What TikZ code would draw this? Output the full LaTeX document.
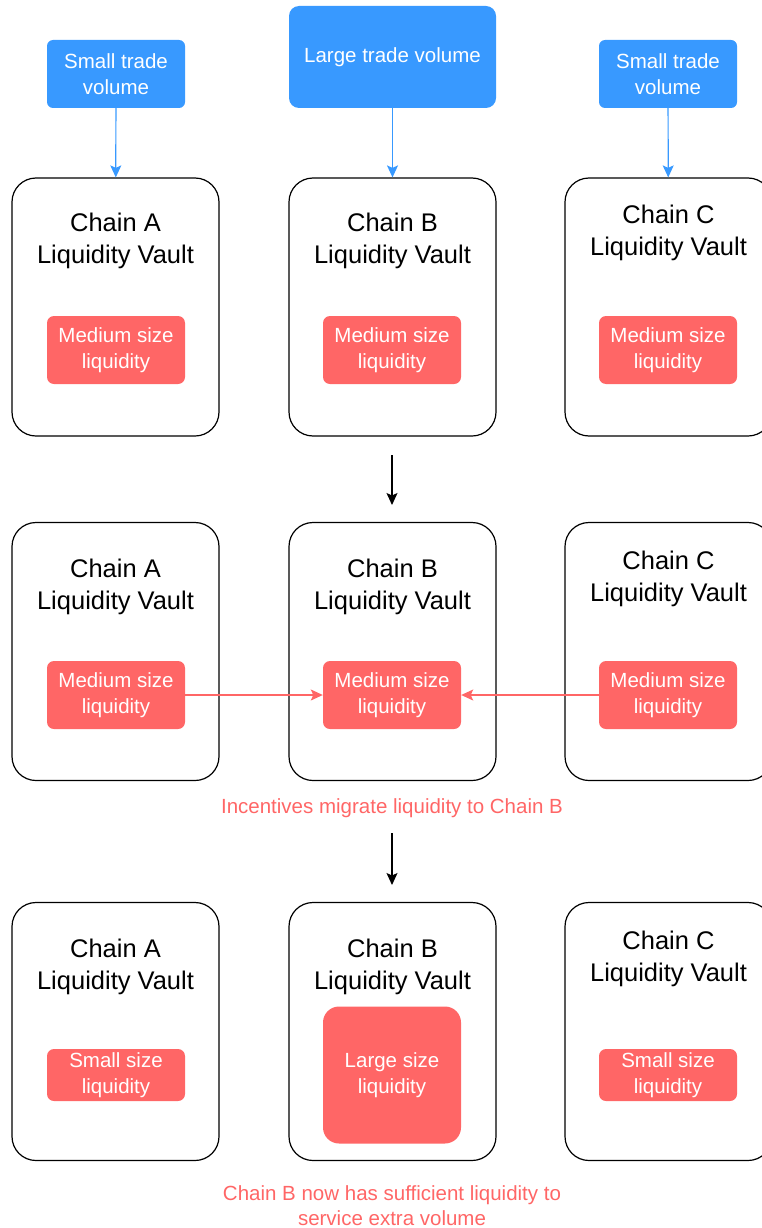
\documentclass[tikz,border=0pt]{standalone}
\usepackage{fontspec}
\setmainfont{Liberation Sans}
\usetikzlibrary{arrows.meta}
\definecolor{tradeblue}{RGB}{56,153,255}
\definecolor{liqred}{RGB}{255,102,102}

\begin{document}
\begin{tikzpicture}[x=1pt,y=-1pt]
		\tikzstyle{vault}=[draw,shape=rectangle,rounded corners=24pt,line width=1.2pt,minimum width=207pt,minimum height=258pt]
		\tikzstyle{title}=[align=center,font=\fontsize{25.5}{32}\selectfont]
		\tikzstyle{trade}=[fill=tradeblue,rounded corners=6pt,text=white,align=center,minimum width=138pt,minimum height=68pt,font=\fontsize{20.5}{26}\selectfont]
		\tikzstyle{liq}=[fill=liqred,rounded corners=7pt,text=white,align=center,minimum width=138pt,minimum height=68pt,font=\fontsize{20.5}{26}\selectfont]
		\tikzstyle{note}=[text=liqred,align=center,font=\fontsize{20.5}{25}\selectfont]
		\tikzstyle{flow}=[-{Stealth[length=12pt,width=11pt,inset=2.5pt]},line width=1.2pt]
		
		\clip (0,0) rectangle (762,1228);
		
		% trade volume
		\node[trade](tA) at (116,74){Small trade\\volume};
		\node[trade,minimum width=207pt,minimum height=102pt,rounded corners=10pt](tB) at (392.5,57){Large trade volume};
		\node[trade](tC) at (668,74){Small trade\\volume};
		
		% first row
		\node[vault](vA1) at (115.5,307){};
		\node[vault](vB1) at (392.5,307){};
		\node[vault](vC1) at (668.5,307){};
		\node[title](hA1) at (115.5,241){Chain A\\Liquidity Vault};
		\node[title](hB1) at (392.5,241){Chain B\\Liquidity Vault};
		\node[title](hC1) at (668.5,233){Chain C\\Liquidity Vault};
		\node[liq](lA1) at (116,350){Medium size\\liquidity};
		\node[liq](lB1) at (392,350){Medium size\\liquidity};
		\node[liq](lC1) at (668,350){Medium size\\liquidity};
		
		\draw[flow,tradeblue] (tA) -- (vA1);
		\draw[flow,tradeblue] (tB) -- (vB1);
		\draw[flow,tradeblue] (tC) -- (vC1);
		
		\coordinate (s1) at (392,455);
		\coordinate (e1) at (392,505);
		\draw[flow] (s1) -- (e1);
		
		% second row
		\node[vault](vA2) at (115.5,651.5){};
		\node[vault](vB2) at (392.5,651.5){};
		\node[vault](vC2) at (668.5,651.5){};
		\node[title](hA2) at (115.5,586.5){Chain A\\Liquidity Vault};
		\node[title](hB2) at (392.5,586.5){Chain B\\Liquidity Vault};
		\node[title](hC2) at (668.5,578.5){Chain C\\Liquidity Vault};
		\node[liq](lA2) at (116,695){Medium size\\liquidity};
		\node[liq](lB2) at (392,695){Medium size\\liquidity};
		\node[liq](lC2) at (668,695){Medium size\\liquidity};
		
		\draw[flow,liqred] (lA2) -- (lB2);
		\draw[flow,liqred] (lC2) -- (lB2);
		
		\node[note](n1) at (392,808){Incentives migrate liquidity to Chain B};
		
		\coordinate (s2) at (392,833);
		\coordinate (e2) at (392,885);
		\draw[flow] (s2) -- (e2);
		
		% third row
		\node[vault](vA3) at (115.5,1031.5){};
		\node[vault](vB3) at (392.5,1031.5){};
		\node[vault](vC3) at (668.5,1031.5){};
		\node[title](hA3) at (115.5,966.5){Chain A\\Liquidity Vault};
		\node[title](hB3) at (392.5,966.5){Chain B\\Liquidity Vault};
		\node[title](hC3) at (668.5,958.5){Chain C\\Liquidity Vault};
		\node[liq,minimum height=52pt](lA3) at (116,1075){Small size\\liquidity};
		\node[liq,minimum height=137pt,rounded corners=16pt](lB3) at (392,1075){Large size\\liquidity};
		\node[liq,minimum height=52pt](lC3) at (668,1075){Small size\\liquidity};
		
		\node[note](n2) at (392,1206){Chain B now has sufficient liquidity to\\service extra volume};
\end{tikzpicture}
\end{document}
